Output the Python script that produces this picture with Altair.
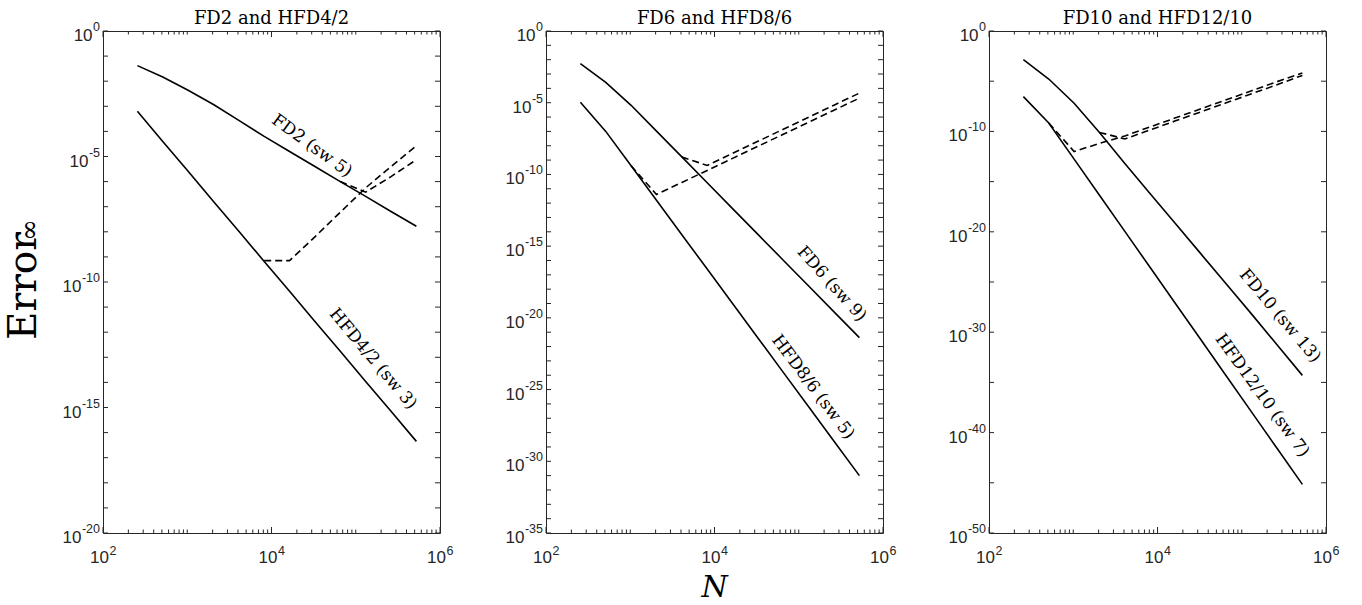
import altair as alt
import pandas as pd

# Grid sizes N (x axis)
N = [256, 512, 1024, 2048, 4096, 8192, 16384, 32768, 65536, 131072, 262144, 524288]

# log10(error)
# Panel 1: FD2 and HFD4/2
P1_FD = [-1.38, -1.83, -2.36, -2.93, -3.56, -4.20, -4.80, -5.40, -6.00, -6.59, -7.19, -7.78]
P1_HFD = [-3.20, -4.40, -5.59, -6.79, -7.98, -9.18, -10.37, -11.57, -12.76, -13.96, -15.15, -16.35]
P1_FD_RO_N = [65536, 131072, 262144, 524288]
P1_FD_RO = [-6.00, -6.42, -5.80, -5.13]
P1_HFD_RO_N = [8192, 16384, 32768, 65536, 131072, 262144, 524288]
P1_HFD_RO = [-9.15, -9.15, -8.20, -7.22, -6.25, -5.40, -4.57]

# Panel 2: FD6 and HFD8/6
P2_FD = [-2.28, -3.58, -5.18, -6.98, -8.78, -10.58, -12.38, -14.18, -15.98, -17.78, -19.58, -21.38]
P2_HFD = [-4.97, -7.00, -9.40, -11.80, -14.20, -16.60, -19.00, -21.40, -23.80, -26.20, -28.60, -31.00]
P2_FD_RO_N = [4096, 8192, 16384, 32768, 65536, 131072, 262144, 524288]
P2_FD_RO = [-8.78, -9.37, -8.53, -7.69, -6.85, -6.01, -5.17, -4.33]
P2_HFD_RO_N = [1024, 2048, 4096, 8192, 16384, 32768, 65536, 131072, 262144, 524288]
P2_HFD_RO = [-9.40, -11.40, -10.56, -9.72, -8.88, -8.04, -7.20, -6.36, -5.52, -4.68]

# Panel 3: FD10 and HFD12/10
P3_FD = [-2.86, -4.78, -7.20, -10.10, -13.20, -16.20, -19.20, -22.20, -25.20, -28.20, -31.25, -34.30]
P3_HFD = [-6.54, -9.16, -12.76, -16.36, -19.96, -23.56, -27.16, -30.76, -34.36, -37.96, -41.56, -45.16]
P3_FD_RO_N = [2048, 4096, 8192, 16384, 32768, 65536, 131072, 262144, 524288]
P3_FD_RO = [-10.10, -10.75, -9.85, -8.95, -8.05, -7.15, -6.25, -5.35, -4.42]
P3_HFD_RO_N = [512, 1024, 2048, 4096, 8192, 16384, 32768, 65536, 131072, 262144, 524288]
P3_HFD_RO = [-9.16, -12.00, -11.20, -10.45, -9.55, -8.65, -7.75, -6.85, -5.95, -5.05, -4.18]

TITLES = ["FD2 and HFD4/2", "FD6 and HFD8/6", "FD10 and HFD12/10"]
FD_LABELS = ["FD2 (sw 5)", "FD6 (sw 9)", "FD10 (sw 13)"]
HFD_LABELS = ["HFD4/2 (sw 3)", "HFD8/6 (sw 5)", "HFD12/10 (sw 7)"]
# label anchor (N, log10 error) and angle
FD_LABEL_POS = [(30200, -4.58, 36), (246000, -17.64, 48), (284000, -28.39, 50)]
HFD_LABEL_POS = [(160000, -13.07, 50), (147600, -24.83, 53), (174000, -36.3, 54)]
Y_MIN = [-20, -35, -50]
Y_LABEL_STEP = [5, 5, 10]
Y_TICK_STEP = [1, 1, 5]
X_LABEL_EXP = [2, 4, 6]

W, H = 337, 502
AXC = "#262626"
SERIF = "DejaVu Serif"
SANS = "Liberation Sans"
BASE_FS = 17
EXP_FS = 12.5


def text_width(s, size):
    return sum(0.556 if c.isdigit() else 0.333 for c in s) * size


def series_df(items):
    rows = []
    for name, ns, es in items:
        for n, e in zip(ns, es):
            rows.append({"N": n, "err": 10.0 ** e, "s": name})
    return pd.DataFrame(rows)


def make_panel(i, fd, hfd, fd_ro_n, fd_ro, hfd_ro_n, hfd_ro, xtitle, with_ylabel):
    ymin = Y_MIN[i]
    xs = alt.Scale(type="log", domain=[1e2, 1e6], nice=False)
    ys = alt.Scale(type="log", domain=[10.0 ** ymin, 1.0], nice=False)

    def X(field="N:Q"):
        return alt.X(field, scale=xs, axis=None)

    def Y(field="err:Q"):
        return alt.Y(field, scale=ys, axis=None)

    solid = series_df([("fd", N, fd), ("hfd", N, hfd)])
    dashed = series_df([("fd_ro", fd_ro_n, fd_ro), ("hfd_ro", hfd_ro_n, hfd_ro)])

    layers = [
        alt.Chart(solid).mark_line(color="black", strokeWidth=1.6).encode(x=X(), y=Y(), detail="s:N"),
        alt.Chart(dashed).mark_line(color="black", strokeWidth=1.6, strokeDash=[7, 4]).encode(
            x=X(), y=Y(), detail="s:N"),
    ]

    # inward tick marks (box style)
    x_major = pd.DataFrame({"N": [1e2, 1e4, 1e6]})
    x_minor = pd.DataFrame({"N": [m * 10.0 ** k for k in range(2, 6) for m in range(2, 10)] + [1e3, 1e5]})
    for df, ln in ((x_major, 6), (x_minor, 3.5)):
        for y0, y1 in ((H, H - ln), (0, ln)):
            layers.append(alt.Chart(df).mark_rule(color=AXC, strokeWidth=1).encode(
                x=X(), y=alt.value(y0), y2=alt.value(y1)))
    y_ticks = pd.DataFrame({"err": [10.0 ** e for e in range(0, ymin - 1, -Y_TICK_STEP[i])]})
    for x0, x1 in ((0, 5), (W, W - 5)):
        layers.append(alt.Chart(y_ticks).mark_rule(color=AXC, strokeWidth=1).encode(
            y=Y(), x=alt.value(x0), x2=alt.value(x1)))

    # y tick labels: "10" + superscript exponent, right aligned at the axis
    for e in range(0, ymin - 1, -Y_LABEL_STEP[i]):
        es = str(e)
        wexp = text_width(es, EXP_FS)
        d = pd.DataFrame({"err": [10.0 ** e]})
        layers.append(alt.Chart(d).mark_text(text="10", font=SANS, fontSize=BASE_FS, align="right",
                                             baseline="middle", dx=-(3.5 + wexp), dy=5, color=AXC).encode(
            y=Y(), x=alt.value(0)))
        layers.append(alt.Chart(d).mark_text(text=es, font=SANS, fontSize=EXP_FS, align="right",
                                             baseline="middle", dx=-3, dy=-4, color=AXC).encode(
            y=Y(), x=alt.value(0)))
    # x tick labels, centred under the tick
    for e in X_LABEL_EXP:
        es = str(e)
        wexp = text_width(es, EXP_FS)
        w10 = text_width("10", BASE_FS)
        off = (w10 + wexp) / 2 - wexp
        d = pd.DataFrame({"N": [10.0 ** e]})
        layers.append(alt.Chart(d).mark_text(text="10", font=SANS, fontSize=BASE_FS, align="right",
                                             baseline="middle", dx=off, dy=25, color=AXC).encode(
            x=X(), y=alt.value(H)))
        layers.append(alt.Chart(d).mark_text(text=es, font=SANS, fontSize=EXP_FS, align="left",
                                             baseline="middle", dx=off + 0.5, dy=18, color=AXC).encode(
            x=X(), y=alt.value(H)))

    # curve labels
    for txt, (n, e, ang) in ((FD_LABELS[i], FD_LABEL_POS[i]), (HFD_LABELS[i], HFD_LABEL_POS[i])):
        ldf = pd.DataFrame({"N": [n], "err": [10.0 ** e], "t": [txt]})
        layers.append(alt.Chart(ldf).mark_text(angle=ang, font=SERIF, fontSize=17, align="center",
                                               baseline="middle", color="black").encode(
            x=X(), y=Y(), text="t:N"))

    if xtitle:
        layers.append(alt.Chart(pd.DataFrame({"t": [xtitle]})).mark_text(
            font=SERIF, fontStyle="italic", fontSize=30, align="center", baseline="middle",
            color="black").encode(x=alt.value(W / 2), y=alt.value(H + 55), text="t:N"))

    if with_ylabel:
        layers.append(alt.Chart(pd.DataFrame({"t": ["Error"]})).mark_text(
            angle=270, font=SERIF, fontSize=39, align="center", baseline="middle", color="black").encode(
            x=alt.value(-79), y=alt.value(255), text="t:N"))
        layers.append(alt.Chart(pd.DataFrame({"t": ["∞"]})).mark_text(
            angle=270, font=SERIF, fontSize=26, align="center", baseline="middle", color="black").encode(
            x=alt.value(-73), y=alt.value(199), text="t:N"))

    return alt.layer(*layers).properties(
        width=W, height=H,
        title=alt.TitleParams(TITLES[i], font=SERIF, fontSize=18, fontWeight="normal", color="black",
                              offset=-7, anchor="middle", frame="group"),
    )


p1 = make_panel(0, P1_FD, P1_HFD, P1_FD_RO_N, P1_FD_RO, P1_HFD_RO_N, P1_HFD_RO, None, True)
p2 = make_panel(1, P2_FD, P2_HFD, P2_FD_RO_N, P2_FD_RO, P2_HFD_RO_N, P2_HFD_RO, "N", False)
p3 = make_panel(2, P3_FD, P3_HFD, P3_FD_RO_N, P3_FD_RO, P3_HFD_RO_N, P3_HFD_RO, None, False)

chart = alt.hconcat(p1, p2, p3, spacing=106, bounds="flush").properties(
    padding={"left": 4, "top": 9, "right": 5, "bottom": 5},
    background="white",
).configure_view(stroke=AXC, strokeWidth=1)

chart.save("out.html", embed_options={"renderer": "svg", "actions": False})
